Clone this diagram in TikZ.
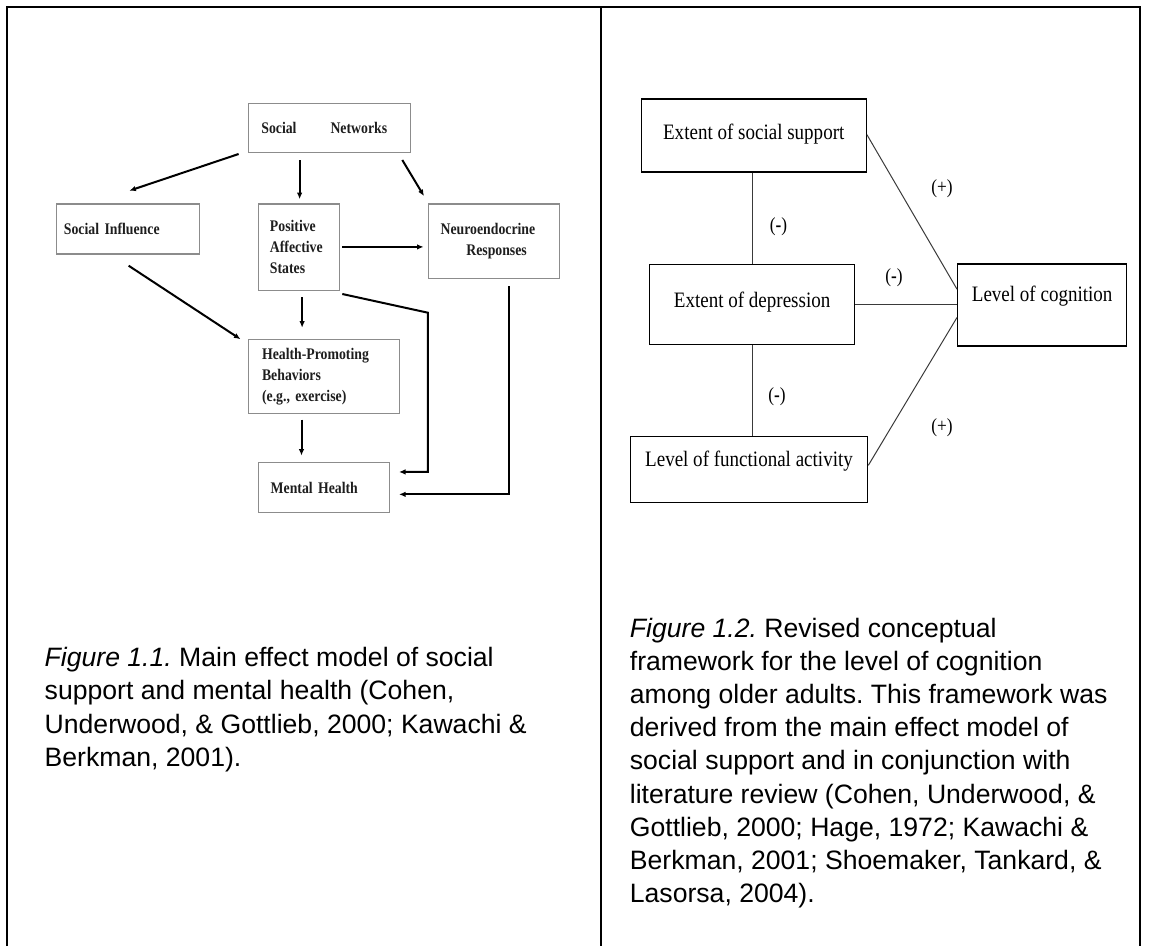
\documentclass[tikz,border=0pt]{standalone}
\usepackage{fontspec}
\setmainfont{Liberation Sans}
\newfontfamily\netfont[FakeStretch=0.85]{Liberation Serif}
\newfontfamily\revfont[FakeStretch=0.865]{Liberation Serif}
\usetikzlibrary{calc,arrows.meta}
\definecolor{boxgray}{HTML}{8C8C8C}
\definecolor{inkdark}{HTML}{1E1E1E}
\definecolor{linegray}{HTML}{3A3A3A}
\frenchspacing
\tikzset{
  netbox/.style={draw=boxgray, line width=1.3pt, anchor=north west, align=left,
    inner ysep=0pt, text=inkdark, font=\netfont\bfseries\fontsize{16.2}{21}\selectfont},
  netarrow/.style={line width=2pt, ->},
  revbox/.style={draw=black, line width=1.3pt, anchor=north west, align=center,
    inner sep=0pt, text height=15pt, font=\revfont\fontsize{22}{26}\selectfont},
  revline/.style={draw=linegray, line width=1pt},
  revsign/.style={inner sep=0pt, font=\revfont\fontsize{20}{24}\selectfont},
  caption/.style={anchor=base west, align=left, inner sep=0pt,
    font=\fontsize{26.6}{33.2}\selectfont},
  frame/.style={line width=2pt}
}
\begin{document}
\begin{tikzpicture}[x=1pt, y=-1pt, >={Latex[length=6.5pt,width=5.5pt]}]
  \useasboundingbox (0,0) rectangle (1149,946);
  % frame
  \draw[frame] (7.4,946) -- (7.4,7.3) -- (1140,7.3) -- (1140,946);
  \draw[frame] (600.7,7.3) -- (600.7,946);

  % main effect model
  \node[netbox, text width=136.1pt, inner xsep=12.7pt, minimum height=49.4pt] (sn) at (248,102.6) {Social\hspace{34pt}Networks};
  \node[netbox, text width=128.4pt, inner xsep=7.3pt, minimum height=50pt] (si) at (56,203.4) {Social Influence};
  \node[netbox, text width=57.9pt, inner xsep=11.3pt, minimum height=86.3pt] (pas) at (258,203.4) {Positive\\Affective\\States};
  \node[netbox, text width=107pt, inner xsep=12pt, minimum height=74.2pt] (nr) at (428,203.4) {Neuroendocrine\\\hspace*{25.7pt}Responses};
  \node[netbox, text width=124.2pt, inner xsep=13.4pt, minimum height=74.2pt] (hpb) at (248,338.6) {Health-Promoting\\Behaviors\\(e.g., exercise)};
  \node[netbox, text width=107pt, inner xsep=12pt, minimum height=50pt] (mh) at (258,462) {Mental Health};

  \draw[netarrow] ($(sn.south west)+(-9.4,0.7)$) -- ($(si.north)+(1.2,-12.7)$);
  \draw[netarrow] ($(pas.north |- sn.south)+(0.7,6.7)$) -- ($(pas.north)+(0.7,-4.2)$);
  \draw[netarrow] ($(sn.south east)+(-8.5,6.7)$) -- ($(nr.north west)+(-4,-7.3)$);
  \draw[netarrow] ($(pas.east)+(2.5,-0.3)$) -- ($(nr.west |- pas.east)+(-4.4,-0.3)$);
  \draw[netarrow] ($(si.south)+(0.5,11)$) -- ($(hpb.north west)+(-7.5,0.6)$);
  \draw[netarrow] ($(pas.south)+(3.2,6)$) -- ($(pas.south |- hpb.north)+(3.2,-10.9)$);
  \draw[netarrow] ($(mh.north west |- hpb.south)+(43.5,5.4)$) -- ($(mh.north west)+(43.5,-6.4)$);
  \draw[netarrow] ($(pas.south east)+(2.5,3)$) -- ++(85.6,18.7) |- ($(mh.east)+(8.7,-15.7)$);
  \draw[netarrow] ($(nr.south)+(15.2,7.3)$) |- ($(mh.east)+(8.7,6.7)$);

  \node[caption] (capa) at (44.5,766.3) {\textit{Figure 1.1.} Main effect model of social\\support and mental health (Cohen,\\Underwood, \& Gottlieb, 2000; Kawachi \&\\Berkman, 2001).};

  % revised framework
  \node[revbox, minimum width=225pt, minimum height=73pt, text depth=7.6pt] (ess) at (640.6,98.4) {Extent of social support};
  \node[revbox, minimum width=205pt, minimum height=80.3pt, text depth=8.8pt] (ed) at (649,263.7) {Extent of depression};
  \node[revbox, minimum width=237.3pt, minimum height=65.8pt, text depth=20.8pt] (lfa) at (629.7,435.7) {Level of functional activity};
  \node[revbox, minimum width=169pt, minimum height=82pt, text depth=22.6pt] (lc) at (957,263.2) {Level of cognition};

  \draw[revline] (ed.north |- ess.south) -- (ed.north);
  \draw[revline] (ed.south) -- (ed.south |- lfa.north);
  \draw[revline] (ed.east) -- (lc.west |- ed.east);
  \draw[revline] ($(ess.east)+(0,-0.9)$) -- ($(lc.west)+(0,-15.7)$);
  \draw[revline] ($(lfa.east)+(0,-3.9)$) -- ($(lc.west)+(0,12.6)$);

  \node[revsign] (plusa) at (942,188.3) {(+)};
  \node[revsign] (minusa) at (778.5,226.3) {(\textbf{-})};
  \node[revsign] (minusb) at (894,277.6) {(\textbf{-})};
  \node[revsign] (minusc) at (777,396.5) {(\textbf{-})};
  \node[revsign] (plusb) at (942,427.3) {(+)};

  \node[caption] (capb) at (629.7,902.6) {\textit{Figure 1.2.} Revised conceptual\\framework for the level of cognition\\among older adults. This framework was\\derived from the main effect model of\\social support and in conjunction with\\literature review (Cohen, Underwood, \&\\Gottlieb, 2000; Hage, 1972; Kawachi \&\\Berkman, 2001; Shoemaker, Tankard, \&\\Lasorsa, 2004).};
\end{tikzpicture}
\end{document}
